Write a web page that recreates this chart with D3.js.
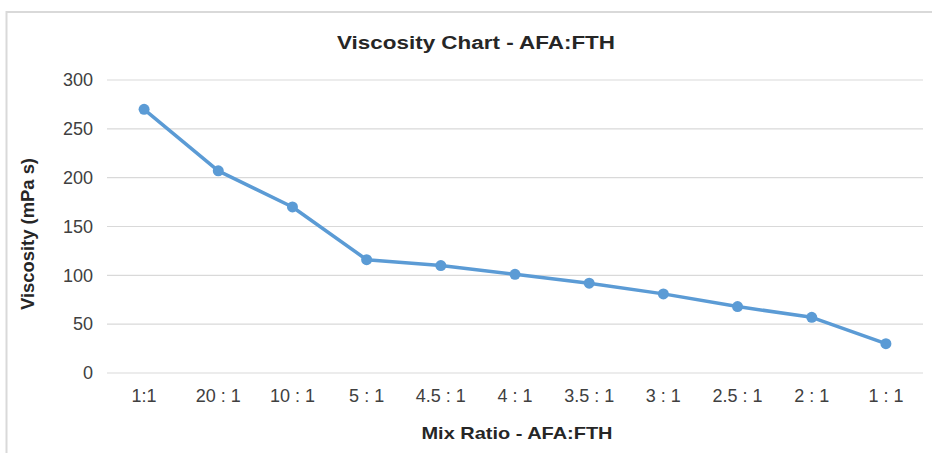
<!DOCTYPE html>
<html><head><meta charset="utf-8">
<script src="https://cdn.jsdelivr.net/npm/d3@7"></script>
<style>body{margin:0;background:#fff;}svg{display:block;font-family:"Liberation Sans",Arial,sans-serif;}</style>
</head><body>
<script>
const categories = ["1:1","20 : 1","10 : 1","5 : 1","4.5 : 1","4 : 1","3.5 : 1","3 : 1","2.5 : 1","2 : 1","1 : 1"];
const viscosity = [270, 207, 170, 116, 110, 101, 92, 81, 68, 57, 30];
const yTicks = [0, 50, 100, 150, 200, 250, 300];
const titleText = "Viscosity Chart - AFA:FTH";
const xTitle = "Mix Ratio - AFA:FTH";
const yTitle = "Viscosity (mPa s)";

const W = 932, H = 453;
const m = {left:107, right:9, top:80, bottom:80};
const svg = d3.select("body").append("svg").attr("width", W).attr("height", H);

// outer border
svg.append("rect").attr("x",6.5).attr("y",12).attr("width",W).attr("height",H)
  .attr("fill","none").attr("stroke","#d9d9d9").attr("stroke-width",2);

const x = d3.scaleBand().domain(categories).range([m.left, W-m.right]);
const y = d3.scaleLinear().domain([0,300]).range([373, 80]);

// gridlines
svg.append("g").selectAll("line").data(yTicks).join("line")
  .attr("x1", m.left).attr("x2", W-m.right)
  .attr("y1", d=>y(d)).attr("y2", d=>y(d))
  .attr("stroke","#d9d9d9").attr("stroke-width",1.2);

// y axis
const yAxis = svg.append("g").attr("transform",`translate(${m.left-14},0)`)
  .call(d3.axisLeft(y).tickValues(yTicks).tickSize(0).tickPadding(0));
yAxis.select(".domain").remove();
yAxis.attr("font-size",18);
yAxis.selectAll("text").attr("font-size",18).attr("fill","#404040")
  .attr("font-family","Liberation Sans, Arial, sans-serif");

// x axis
const xAxis = svg.append("g").attr("transform",`translate(0,${373+16})`)
  .call(d3.axisBottom(x).tickSize(0).tickPadding(0));
xAxis.select(".domain").remove();
xAxis.attr("font-size",18);
xAxis.selectAll("text").attr("font-size",18).attr("fill","#404040")
  .attr("font-family","Liberation Sans, Arial, sans-serif");

// line
const line = d3.line().x((d,i)=>x(categories[i])+x.bandwidth()/2).y(d=>y(d));
svg.append("path").datum(viscosity).attr("d", line)
  .attr("fill","none").attr("stroke","#5b9bd5").attr("stroke-width",3.5).attr("stroke-linejoin","round");
svg.append("g").selectAll("circle").data(viscosity).join("circle")
  .attr("cx",(d,i)=>x(categories[i])+x.bandwidth()/2).attr("cy",d=>y(d)).attr("r",5.5)
  .attr("fill","#5b9bd5");

// titles
svg.append("text").attr("x",476).attr("y",49).attr("text-anchor","middle")
  .attr("font-size",18).attr("font-weight","bold").attr("fill","#262626")
  .attr("textLength",278).attr("lengthAdjust","spacingAndGlyphs").text(titleText);
svg.append("text").attr("x",517).attr("y",439).attr("text-anchor","middle")
  .attr("font-size",17).attr("font-weight","bold").attr("fill","#262626")
  .attr("textLength",191).attr("lengthAdjust","spacingAndGlyphs").text(xTitle);
svg.append("text").attr("transform","translate(34,234) rotate(-90)").attr("text-anchor","middle")
  .attr("font-size",18).attr("font-weight","bold").attr("fill","#262626")
  .attr("textLength",152).attr("lengthAdjust","spacingAndGlyphs").text(yTitle);
</script>
</body></html>
